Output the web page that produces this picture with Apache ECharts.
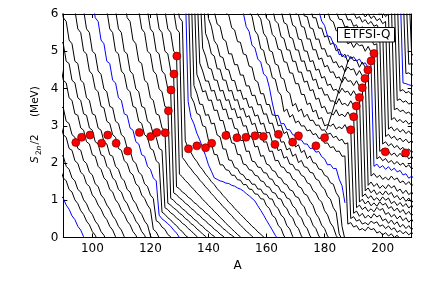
<!DOCTYPE html>
<html><head><meta charset="utf-8">
<script src="https://cdn.jsdelivr.net/npm/echarts@6/dist/echarts.min.js"></script>
<style>html,body{margin:0;padding:0;background:#fff}#c{width:424px;height:287px}</style>
</head><body><div id="c"></div>
<script>
const xTicks=[100,120,140,160,180,200];
const yTicks=[0,1,2,3,4,5,6];
const blueZ=[30,40,50,60,70,80];
// S2n/2 (MeV) for each isotopic chain, one value per mass number A, starting at chainStartA
const Z30=[1.14,1.05,0.87,0.76,0.58,0.48,0.30,0.20,0.02,-0.08];
const Z31=[1.83,1.60,1.52,1.29,1.22,1.01,0.91,0.72,0.62,0.44,0.34,0.16,0.06,-0.12];
const Z32=[2.22,2.18,1.91,1.83,1.60,1.52,1.29,1.22,1.01,0.91,0.72,0.62,0.44,0.34,0.16,0.06,-0.12];
const Z33=[3.06,2.76,2.69,2.39,2.34,2.06,1.99,1.75,1.68,1.44,1.37,1.14,1.05,0.87,0.76,0.58,0.48,0.30,0.20,0.02,-0.08];
const Z34=[3.52,3.48,3.12,3.06,2.76,2.69,2.39,2.34,2.06,1.99,1.75,1.68,1.44,1.37,1.14,1.05,0.87,0.76,0.58,0.48,0.30,0.20,0.02,-0.08];
const Z35=[4.67,4.22,4.15,3.75,3.68,3.32,3.28,2.94,2.88,2.57,2.51,2.22,2.18,1.91,1.83,1.60,1.52,1.29,1.22,1.01,0.91,0.72,0.62,0.44,0.34,0.16,0.06,-0.12];
const Z36=[5.30,5.20,4.73,4.67,4.22,4.15,3.75,3.68,3.32,3.28,2.94,2.88,2.57,2.51,2.22,2.18,1.91,1.83,1.60,1.52,1.29,1.22,1.01,0.91,0.72,0.62,0.44,0.34,0.16,0.06,-0.12];
const Z37=[6.40,5.90,5.80,5.30,5.20,4.73,4.67,4.22,4.15,3.75,3.68,3.32,3.28,2.94,2.88,2.57,2.51,2.22,2.18,1.91,1.83,1.60,1.52,1.29,1.22,1.01,0.91,0.72,0.62,0.44,0.34,0.05,-0.1];
const Z38=[6.20,6.10,5.60,5.50,5.00,4.93,4.47,4.38,3.99,3.91,3.52,3.48,3.12,3.06,2.76,2.69,2.39,2.34,2.06,1.99,1.75,1.68,1.44,1.37,1.14,1.05,0.87,0.76,0.22,0.15,0.0,-0.1];
const Z39=[6.20,6.10,5.60,5.50,5.00,4.93,4.47,4.38,3.99,3.91,3.52,3.48,3.12,3.06,2.76,2.69,2.39,2.34,2.06,1.99,1.75,1.68,1.44,1.37,1.14,1.05,0.45,0.40,0.28,0.22,0.08,0.02,-0.1];
const Z40=[6.40,5.90,5.80,5.30,5.20,4.73,4.67,4.22,4.15,3.75,3.68,3.32,3.28,2.94,2.88,2.57,2.51,2.22,2.18,1.91,1.83,1.60,1.52,0.60,0.50,0.44,0.37,0.30,0.20,0.12,0.0,-0.1];
const Z41=[6.20,6.10,5.60,5.50,5.00,4.93,4.47,4.38,3.99,3.91,3.52,3.48,3.12,3.06,2.76,2.69,2.39,2.34,2.06,1.99,0.68,0.62,0.53,0.47,0.38,0.32,0.22,0.16,0.06,0.0,-0.1];
const Z42=[6.20,6.10,5.60,5.50,5.00,4.93,4.47,4.38,3.99,3.91,3.52,3.48,3.12,3.06,2.76,2.69,2.39,2.34,0.80,0.75,0.66,0.61,0.52,0.47,0.38,0.33,0.24,0.18,0.10,0.03,-0.06];
const Z43=[6.40,5.90,5.80,5.30,5.20,4.73,4.67,4.22,4.15,3.75,3.68,3.32,3.28,2.94,2.88,0.92,0.87,0.79,0.74,0.65,0.60,0.51,0.46,0.37,0.32,0.23,0.17,0.09,0.03,-0.06];
const Z44=[6.20,6.10,5.60,5.50,5.00,4.93,4.47,4.38,3.99,3.91,3.52,3.48,1.05,1.00,0.91,0.86,0.77,0.72,0.63,0.58,0.49,0.44,0.35,0.30,0.21,0.16,0.08,0.03,-0.06];
const Z45=[6.20,6.10,5.60,5.50,5.00,4.93,4.47,4.38,3.99,3.91,1.20,1.15,1.06,1.01,0.92,0.87,0.78,0.73,0.64,0.59,0.50,0.45,0.36,0.31,0.22,0.17,0.09,0.04,-0.05];
const Z46=[6.20,6.10,5.60,5.50,5.00,4.93,4.47,4.38,1.36,1.31,1.22,1.17,1.08,1.03,0.94,0.89,0.80,0.75,0.66,0.61,0.52,0.47,0.38,0.33,0.24,0.19,0.11,0.06,0.0,-0.06];
const Z47=[6.20,6.10,5.60,5.50,5.00,4.93,1.70,1.63,1.53,1.46,1.36,1.29,1.19,1.12,1.02,0.95,0.86,0.79,0.70,0.63,0.54,0.47,0.38,0.31,0.23,0.16,0.08,0.02,-0.06];
const Z48=[6.20,6.10,5.60,5.50,2.15,2.05,1.93,1.84,1.73,1.65,1.54,1.46,1.36,1.28,1.18,1.10,1.00,0.93,0.83,0.76,0.66,0.59,0.49,0.42,0.33,0.26,0.17,0.11,0.03,-0.04];
const Z49=[6.40,5.90,5.80,2.60,2.40,2.28,2.14,2.04,1.91,1.82,1.70,1.61,1.50,1.42,1.31,1.23,1.13,1.05,0.95,0.88,0.78,0.71,0.62,0.55,0.46,0.39,0.30,0.24,0.15,0.09,0.01,-0.05];
const Z50=[6.80,3.65,3.22,3.05,2.80,2.62,2.40,2.20,1.95,1.78,1.60,1.56,1.52,1.50,1.46,1.45,1.40,1.38,1.33,1.30,1.25,1.18,1.12,1.05,0.98,0.85,0.73,0.60,0.46,0.33,0.20,0.06,-0.05];
const Z51=[6.80,3.78,3.62,3.33,3.29,3.00,2.97,2.61,2.52,2.23,2.22,1.95,1.95,1.82,1.80,1.67,1.67,1.55,1.54,1.42,1.42,1.30,1.29,1.17,1.16,1.04,1.03,0.85,0.78,0.59,0.53,0.33,0.24,0.04,-0.04];
const Z52=[6.80,4.08,3.87,3.58,3.57,3.28,3.30,3.05,3.07,2.75,2.70,2.38,2.37,2.08,2.07,1.88,1.85,1.71,1.68,1.56,1.55,1.43,1.43,1.30,1.30,1.17,1.16,1.04,1.03,0.85,0.78,0.60,0.53,0.32,0.23,0.03,-0.05];
const Z53=[6.80,4.38,4.17,3.91,3.94,3.68,3.69,3.41,3.42,3.14,3.14,2.85,2.83,2.54,2.52,2.23,2.22,1.97,1.95,1.82,1.80,1.67,1.65,1.52,1.50,1.37,1.35,1.21,1.19,1.05,1.03,0.85,0.78,0.60,0.53,0.33,0.24,0.04,-0.04];
const Z54=[6.80,4.68,4.47,4.20,4.20,3.93,3.95,3.68,3.70,3.43,3.45,3.18,3.20,2.93,2.91,2.61,2.60,2.31,2.32,2.05,2.03,1.89,1.88,1.74,1.73,1.58,1.56,1.41,1.38,1.23,1.21,1.06,1.03,0.85,0.78,0.60,0.53,0.33,0.24,0.04,-0.04];
const Z55=[6.80,5.08,4.87,4.55,4.52,4.23,4.22,3.93,3.95,3.68,3.70,3.43,3.46,3.21,3.24,2.99,3.00,2.72,2.71,2.43,2.45,2.18,2.20,1.97,1.94,1.80,1.77,1.62,1.59,1.45,1.42,1.28,1.25,1.10,1.07,0.90,0.82,0.61,0.53,0.33,0.24,0.04,-0.04];
const Z56=[6.80,5.48,5.27,4.93,4.87,4.53,4.52,4.23,4.22,3.93,3.95,3.68,3.70,3.43,3.47,3.23,3.27,3.03,3.07,2.81,2.82,2.56,2.57,2.31,2.32,2.06,2.07,1.90,1.88,1.75,1.73,1.57,1.53,1.37,1.33,1.17,1.13,0.97,0.86,0.64,0.53,0.33,0.24,0.04,-0.04];
const Z57=[6.80,5.88,5.67,5.28,5.17,4.86,4.83,4.52,4.50,4.22,4.21,3.93,3.96,3.71,3.74,3.49,3.51,3.26,3.29,3.04,3.07,2.81,2.82,2.56,2.57,2.33,2.37,2.13,2.17,1.97,1.96,1.82,1.81,1.67,1.63,1.47,1.43,1.26,1.20,1.03,0.95,0.72,0.61,0.39,0.28,0.05,-0.05];
const Z58=[6.13,6.07,5.73,5.67,5.33,5.27,4.93,4.93,4.64,4.64,4.36,4.36,4.07,4.07,3.81,3.82,3.56,3.57,3.31,3.32,3.06,3.07,2.81,2.82,2.56,2.57,2.35,2.40,2.18,2.24,2.01,2.07,1.90,1.88,1.75,1.73,1.57,1.53,1.37,1.30,1.10,1.03,0.80,0.68,0.10,-0.05];
const Z59=[6.03,5.97,5.63,5.57,5.26,5.24,4.93,4.90,4.60,4.57,4.23,4.17,3.86,3.86,3.57,3.57,3.29,3.28,3.00,3.02,2.79,2.84,2.61,2.66,2.43,2.49,2.28,2.34,2.12,2.19,2.01,1.99,1.84,1.82,1.67,1.63,1.47,1.43,1.20,1.08,0.30,-0.05];
const Z60=[6.19,6.03,5.66,5.53,5.16,5.09,4.79,4.71,4.39,4.32,4.02,3.61,3.27,3.28,3.05,3.06,2.90,2.89,2.76,2.74,2.62,2.62,2.51,2.51,2.39,2.40,2.29,2.31,2.17,2.11,1.95,1.96,1.85,1.85,1.57,1.39,0.93];
const Z61=[6.06,5.94,5.55,5.44,5.07,5.02,4.68,4.62,4.29,4.25,3.92,3.82,3.38,3.45,3.23,3.30,3.08,3.13,2.99,3.00,2.86,2.89,2.76,2.79,2.66,2.67,2.53,2.54,2.41,2.44,2.31,2.32,2.18,2.19,0.36,0.40,0.28,0.32,0.20,0.24,0.18,0.28,0.21,0.24,0.12,0.16,0.07,0.13,0.04,0.10,0.0,0.06,-0.04];
const Z62=[6.30,5.98,5.87,5.48,5.37,5.02,4.98,4.66,4.62,4.29,4.25,3.93,3.87,3.53,3.60,3.38,3.45,3.23,3.31,3.14,3.15,3.01,3.02,2.88,2.89,2.77,2.80,2.68,2.72,2.60,2.64,2.51,2.54,0.51,0.56,0.44,0.48,0.36,0.40,0.34,0.44,0.38,0.42,0.30,0.34,0.24,0.31,0.21,0.26,0.14,0.19,0.10,0.16,0.07,0.14,0.05];
const Z63=[6.25,5.89,5.81,5.45,5.37,5.06,5.03,4.72,4.70,4.42,4.41,4.13,4.13,3.84,3.84,3.57,3.61,3.37,3.42,3.18,3.22,3.00,3.03,2.99,3.05,2.91,2.97,2.92,3.03,2.87,2.94,0.65,0.71,0.57,0.65,0.52,0.60,0.52,0.64,0.55,0.60,0.45,0.50,0.38,0.47,0.35,0.42,0.28,0.35,0.24,0.32,0.21,0.30];
const Z64=[6.17,5.82,5.74,5.39,5.34,5.04,5.03,4.73,4.73,4.44,4.44,4.17,4.20,3.94,3.97,3.71,3.74,3.48,3.52,3.33,3.35,3.29,3.43,3.27,3.31,3.24,3.37,3.23,3.29,0.80,0.87,0.75,0.82,0.70,0.77,0.69,0.81,0.73,0.78,0.62,0.67,0.55,0.62,0.50,0.58,0.45,0.53,0.41,0.49,0.37];
const Z65=[6.30,6.11,5.77,5.72,5.38,5.34,5.04,5.03,4.73,4.74,4.47,4.48,4.22,4.25,3.99,4.02,3.82,3.84,3.66,3.67,3.58,3.73,3.57,3.60,3.53,3.67,3.53,3.58,0.95,1.03,0.90,0.98,0.85,0.93,0.84,0.96,0.87,0.92,0.78,0.83,0.71,0.79,0.67,0.75,0.62,0.70,0.59,0.67];
const Z66=[6.40,6.08,6.03,5.70,5.65,5.33,5.31,5.01,5.00,4.72,4.75,4.49,4.52,4.28,4.32,4.08,4.12,3.95,3.98,3.87,4.01,3.90,3.93,3.81,3.94,3.80,3.81,1.10,1.17,1.05,1.12,1.00,1.07,0.98,1.09,1.00,1.06,0.91,0.97,0.86,0.94,0.83,0.91,0.79,0.87,0.75];
const Z67=[6.40,6.02,5.98,5.67,5.64,5.33,5.33,5.04,5.04,4.78,4.82,4.58,4.62,4.43,4.45,4.28,4.31,4.16,4.31,4.19,4.21,4.08,4.21,4.05,4.07,1.25,1.33,1.20,1.28,1.15,1.23,1.14,1.25,1.15,1.21,1.07,1.13,1.01,1.09,0.97,1.06,0.94,1.03];
const Z68=[6.35,5.95,5.93,5.63,5.60,5.32,5.33,5.06,5.07,4.86,4.88,4.69,4.72,4.56,4.61,4.45,4.58,4.50,4.53,4.35,4.48,4.34,4.32,1.40,1.49,1.37,1.45,1.32,1.40,1.31,1.42,1.33,1.39,1.24,1.30,1.18,1.27,1.15,1.22,1.10];
const Z69=[6.35,6.19,5.90,5.90,5.62,5.62,5.38,5.42,5.18,5.23,5.01,5.06,4.85,4.92,4.71,4.86,4.75,4.76,4.57,4.71,4.57,4.55,1.65,1.72,1.61,1.67,1.56,1.62,1.54,1.65,1.55,1.60,1.47,1.52,1.42,1.50,1.39,1.46];
const Z70=[6.26,6.09,5.81,5.69,5.41,5.39,5.21,5.16,4.91,4.92,4.83,4.90,4.80,4.85,4.74,4.79,4.66,4.69,4.56,4.62,1.91,1.97,1.87,1.93,1.83,1.90,1.80,1.86,1.76,1.80,1.68,1.71,1.59,1.65,1.55];
const Z71=[6.25,6.08,5.84,5.79,5.55,5.55,5.35,5.35,5.20,5.25,5.10,5.22,5.15,5.17,5.00,5.13,4.97,4.99,2.11,2.17,2.06,2.12,2.01,2.07,1.97,2.04,1.94,2.00,1.89,1.95,1.84,1.90];
const Z72=[6.20,6.06,5.86,5.85,5.65,5.67,5.48,5.50,5.36,5.42,5.31,5.44,5.31,5.34,5.17,5.20,2.31,2.38,2.26,2.32,2.21,2.27,2.17,2.26,2.16,2.23,2.11,2.18,2.06];
const Z73=[6.35,6.07,6.04,5.84,5.85,5.67,5.71,5.55,5.66,5.57,5.64,5.47,5.50,5.35,5.40,2.51,2.57,2.46,2.52,2.41,2.47,2.36,2.42,2.31,2.38,2.28,2.35];
const Z74=[6.40,6.03,6.03,5.88,5.93,5.78,5.85,5.73,5.80,5.67,5.71,5.56,5.60,2.71,2.77,2.66,2.72,2.61,2.67,2.57,2.64,2.54,2.60,2.48];
const Z75=[6.40,6.05,6.04,5.92,6.01,5.88,5.95,5.82,5.88,5.74,5.80,2.91,2.97,2.86,2.93,2.83,2.90,2.79,2.86,2.76,2.83];
const Z76=[6.45,6.10,6.14,6.02,6.11,5.98,6.05,5.93,6.00,3.16,3.22,3.11,3.17,3.08,3.14,3.04,3.11,3.01];
const Z77=[6.5,6.25,6.35,6.20,6.28,3.43,3.47,3.38,3.42,3.33,3.37,3.28,3.32];
const Z78=[6.6,6.45,3.68,3.72,3.63,3.67,3.58,3.62,3.55];
const Z79=[6.7,6.6,3.93,3.97,3.88,3.92,3.84,3.88];
const Z80=[6.8,6.7,4.15,4.13,4.10,4.08,4.06];
const Z81=[6.8,6.7,4.40,4.42,4.36,4.38];
const Z82=[6.8,6.7,4.65,4.67,4.62];
const Z83=[6.8,6.7,4.90,4.92];
const chainZ=[30,31,32,33,34,35,36,37,38,39,40,41,42,43,44,45,46,47,48,49,50,51,52,53,54,55,56,57,58,59,60,61,62,63,64,65,66,67,68,69,70,71,72,73,74,75,76,77,78,79,80,81,82,83];
const chainStartA=[89,89,89,89,89,89,89,89,93,96,100,104,107,111,115,118,121,124,127,129,132,133,134,135,136,137,138,139,141,146,151,154,156,159,162,164,166,169,172,174,177,180,183,185,188,191,194,199,203,204,205,206,207,208];
const chainValues=[Z30,Z31,Z32,Z33,Z34,Z35,Z36,Z37,Z38,Z39,Z40,Z41,Z42,Z43,Z44,Z45,Z46,Z47,Z48,Z49,Z50,Z51,Z52,Z53,Z54,Z55,Z56,Z57,Z58,Z59,Z60,Z61,Z62,Z63,Z64,Z65,Z66,Z67,Z68,Z69,Z70,Z71,Z72,Z73,Z74,Z75,Z76,Z77,Z78,Z79,Z80,Z81,Z82,Z83];
const diagonalA=[180.7,188.2];
const diagonalY=[2.89,4.77];
// r-process path points
const pathA=[94.3,96.3,99.2,103.2,105.3,108.2,112.2,116.2,120.1,122.2,125.1,126.2,127.1,128.1,129.1,133.1,136,139,141.1,146,149.8,152.9,156,158.9,162.9,164.1,169,171,177,180,189,190,190.9,192,193,193.9,194.9,196,197,200.9,207.9];
const pathY=[2.55,2.69,2.75,2.53,2.75,2.53,2.32,2.82,2.71,2.82,2.81,3.40,3.96,4.39,4.87,2.38,2.46,2.41,2.53,2.74,2.68,2.69,2.73,2.71,2.50,2.77,2.56,2.73,2.46,2.68,2.89,3.24,3.53,3.76,4.02,4.27,4.50,4.74,4.94,2.30,2.27];

const FONT='DejaVu Sans';
const chart=echarts.init(document.getElementById('c'),null,{renderer:'canvas'});
const series=[];
chainValues.forEach((vals,i)=>{
  const blue=blueZ.indexOf(chainZ[i])>=0;
  const a0=chainStartA[i];
  series.push({type:'line',data:vals.map((v,k)=>[a0+k,v]),showSymbol:false,symbol:'none',clip:true,silent:true,animation:false,
    lineStyle:{width:1,color:blue?'#0000ff':'#000000'},z:blue?3:2});
});
series.push({type:'line',data:diagonalA.map((a,i)=>[a,diagonalY[i]]),showSymbol:false,symbol:'none',clip:true,silent:true,animation:false,lineStyle:{width:1,color:'#000'},z:2});
series.push({type:'scatter',data:pathA.map((a,i)=>[a,pathY[i]]),symbol:'circle',symbolSize:8,silent:true,animation:false,
  itemStyle:{color:'#ff0000',opacity:1,borderColor:'#550000',borderWidth:0.6},z:5});

const tickStyle={show:true,inside:true,length:4,lineStyle:{color:'#000',width:1}};
chart.setOption({
  animation:false,
  grid:{left:63.3,top:14,width:348.4,height:223.5},
  xAxis:[{type:'value',position:'bottom',min:90,max:210,splitNumber:6,
      axisLine:{show:true,onZero:false,lineStyle:{color:'#000',width:1}},
      axisTick:Object.assign({customValues:xTicks},tickStyle),
      axisLabel:{customValues:xTicks,color:'#000',fontSize:12,fontFamily:FONT,margin:5},
      splitLine:{show:false},
      name:'A',nameLocation:'middle',nameGap:17,nameTextStyle:{color:'#000',fontSize:12,fontFamily:FONT}},
    {type:'value',position:'top',min:90,max:210,splitNumber:6,
      axisLine:{show:true,onZero:false,lineStyle:{color:'#000',width:1}},
      axisTick:Object.assign({customValues:xTicks},tickStyle),
      axisLabel:{show:false},splitLine:{show:false}}],
  yAxis:[{type:'value',position:'left',min:0,max:6,interval:1,
      axisLine:{show:true,onZero:false,lineStyle:{color:'#000',width:1}},
      axisTick:Object.assign({customValues:yTicks},tickStyle),
      axisLabel:{customValues:yTicks,color:'#000',fontSize:12,fontFamily:FONT,margin:5},
      splitLine:{show:false}},
    {type:'value',position:'right',min:0,max:6,interval:1,
      axisLine:{show:true,onZero:false,lineStyle:{color:'#000',width:1}},
      axisTick:Object.assign({customValues:yTicks},tickStyle),
      axisLabel:{show:false},splitLine:{show:false}}],
  series:series,
  graphic:[
    {type:'rect',z:100,shape:{x:337.5,y:27.5,width:57,height:14.5},style:{fill:'#fff',stroke:'#000',lineWidth:1}},
    {type:'text',z:101,x:367,y:35,style:{text:'ETFSI-Q',font:'12px "DejaVu Sans"',fill:'#000',textAlign:'center',textVerticalAlign:'middle'}},
    {type:'group',x:40.5,y:163,rotation:Math.PI/2,z:100,children:[
      {type:'text',x:0,y:0,style:{text:'S',font:'italic 10.5px "DejaVu Sans"',fill:'#000',textAlign:'left',textVerticalAlign:'bottom'}},
      {type:'text',x:8,y:2.5,style:{text:'2',font:'7.5px "DejaVu Sans"',fill:'#000',textAlign:'left',textVerticalAlign:'bottom'}},
      {type:'text',x:12.6,y:2.5,style:{text:'n',font:'italic 7.5px "DejaVu Sans"',fill:'#000',textAlign:'left',textVerticalAlign:'bottom'}},
      {type:'text',x:18.5,y:0,style:{text:'/2',font:'10.5px "DejaVu Sans"',fill:'#000',textAlign:'left',textVerticalAlign:'bottom'}},
      {type:'text',x:46,y:0,style:{text:'(MeV)',font:'10.5px "DejaVu Sans"',fill:'#000',textAlign:'left',textVerticalAlign:'bottom'}}
    ]}
  ]
});
</script></body></html>
